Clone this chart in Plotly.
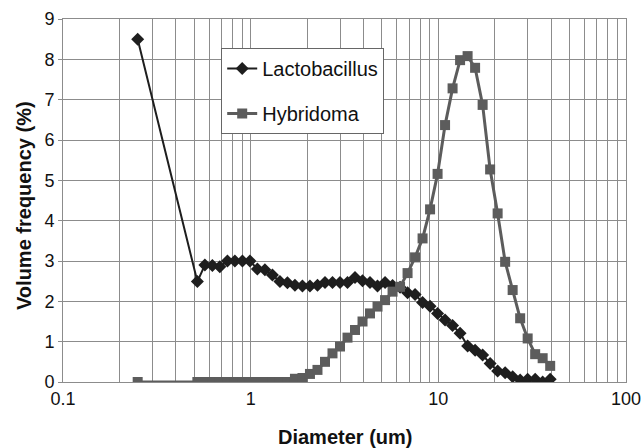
import plotly.graph_objects as go

# particle size bins (um)
diameter = [0.25, 0.520, 0.570, 0.625, 0.685, 0.752, 0.824, 0.904, 0.991, 1.086,
            1.191, 1.306, 1.432, 1.570, 1.722, 1.888, 2.070, 2.270, 2.489, 2.729,
            2.992, 3.281, 3.597, 3.945, 4.325, 4.742, 5.200, 5.702, 6.252, 6.855,
            7.516, 8.241, 9.036, 9.908, 10.86, 11.91, 13.06, 14.32, 15.70, 17.22,
            18.88, 20.70, 22.70, 24.89, 27.29, 29.92, 32.81, 35.97, 39.45]

lactobacillus = [8.5, 2.49, 2.90, 2.89, 2.86, 3.0, 3.0, 3.0, 3.0, 2.80,
                 2.78, 2.65, 2.49, 2.46, 2.40, 2.38, 2.38, 2.40, 2.47, 2.47,
                 2.47, 2.47, 2.59, 2.51, 2.47, 2.38, 2.47, 2.39, 2.35, 2.21,
                 2.17, 1.97, 1.88, 1.70, 1.54, 1.40, 1.21, 0.89, 0.79, 0.67,
                 0.46, 0.27, 0.23, 0.13, 0.05, 0.07, 0.07, 0.0, 0.07]

hybridoma = [0.0, 0.0, 0.0, 0.0, 0.0, 0.0, 0.0, 0.0, 0.0, 0.0,
             0.0, 0.0, 0.0, 0.0, 0.08, 0.10, 0.20, 0.30, 0.50, 0.71,
             0.88, 1.10, 1.29, 1.50, 1.70, 1.87, 2.03, 2.24, 2.36, 2.70,
             3.09, 3.56, 4.28, 5.16, 6.37, 7.28, 7.98, 8.08, 7.79, 6.87,
             5.27, 4.18, 2.98, 2.28, 1.58, 1.08, 0.69, 0.59, 0.40]

x_tick_labels = {0.1: "0.1", 1: "1", 10: "10", 100: "100"}

FONT = "Arial, Liberation Sans, sans-serif"
GRID = "#8c8c8c"

# grid at every 1..9 of each decade, labels only on decades
grid_vals = [m * 10 ** e for e in (-1, 0, 1) for m in range(1, 10)] + [100]
grid_text = [x_tick_labels.get(round(v, 6), "") for v in grid_vals]

fig = go.Figure()
fig.add_trace(go.Scatter(x=diameter, y=lactobacillus, name="Lactobacillus",
                         mode="lines+markers", legendgroup="l",
                         line=dict(color="#1e1e1e", width=2),
                         marker=dict(symbol="diamond", size=10, color="#1e1e1e")))
fig.add_trace(go.Scatter(x=diameter, y=hybridoma, name="Hybridoma",
                         mode="lines+markers", legendgroup="h",
                         line=dict(color="#5c5c5c", width=3),
                         marker=dict(symbol="square", size=10, color="#5c5c5c")))

fig.update_layout(
    width=643, height=448,
    margin=dict(l=63, r=17, t=19, b=66),
    paper_bgcolor="white", plot_bgcolor="white",
    font=dict(family=FONT, size=18, color="#111"),
    showlegend=True,
    legend=dict(x=0.281, y=0.92, xanchor="left", yanchor="top",
                bordercolor="#666", borderwidth=1, bgcolor="white",
                traceorder="grouped", tracegroupgap=16,
                font=dict(size=20, family=FONT)),
    annotations=[
        dict(text="<b>Diameter (um)</b>", xref="paper", yref="paper",
             x=0.5, y=-0.1515, xanchor="center", yanchor="middle",
             showarrow=False, font=dict(size=20)),
        dict(text="<b>Volume frequency (%)</b>", xref="paper", yref="paper",
             x=-0.0693, y=0.4876, xanchor="center", yanchor="middle",
             textangle=-90, showarrow=False, font=dict(size=20)),
    ],
)
fig.update_xaxes(type="log", range=[-1, 2], tickvals=grid_vals, ticktext=grid_text,
                 showgrid=True, gridcolor=GRID, gridwidth=1, automargin=False,
                 showline=True, linecolor=GRID, mirror=True,
                 ticks="", tickfont=dict(size=18))
fig.update_yaxes(range=[0, 9], dtick=1, showgrid=True, gridcolor=GRID, gridwidth=1,
                 showline=True, linecolor=GRID, mirror=True, zeroline=False,
                 automargin=False, ticks="outside", ticklen=4, tickcolor=GRID,
                 tickfont=dict(size=18))

# drop the page's default body margin so the figure sits at the window's corner
fig.write_html("out.html", config={"displayModeBar": False},
               post_script="document.body.style.margin='0';")
